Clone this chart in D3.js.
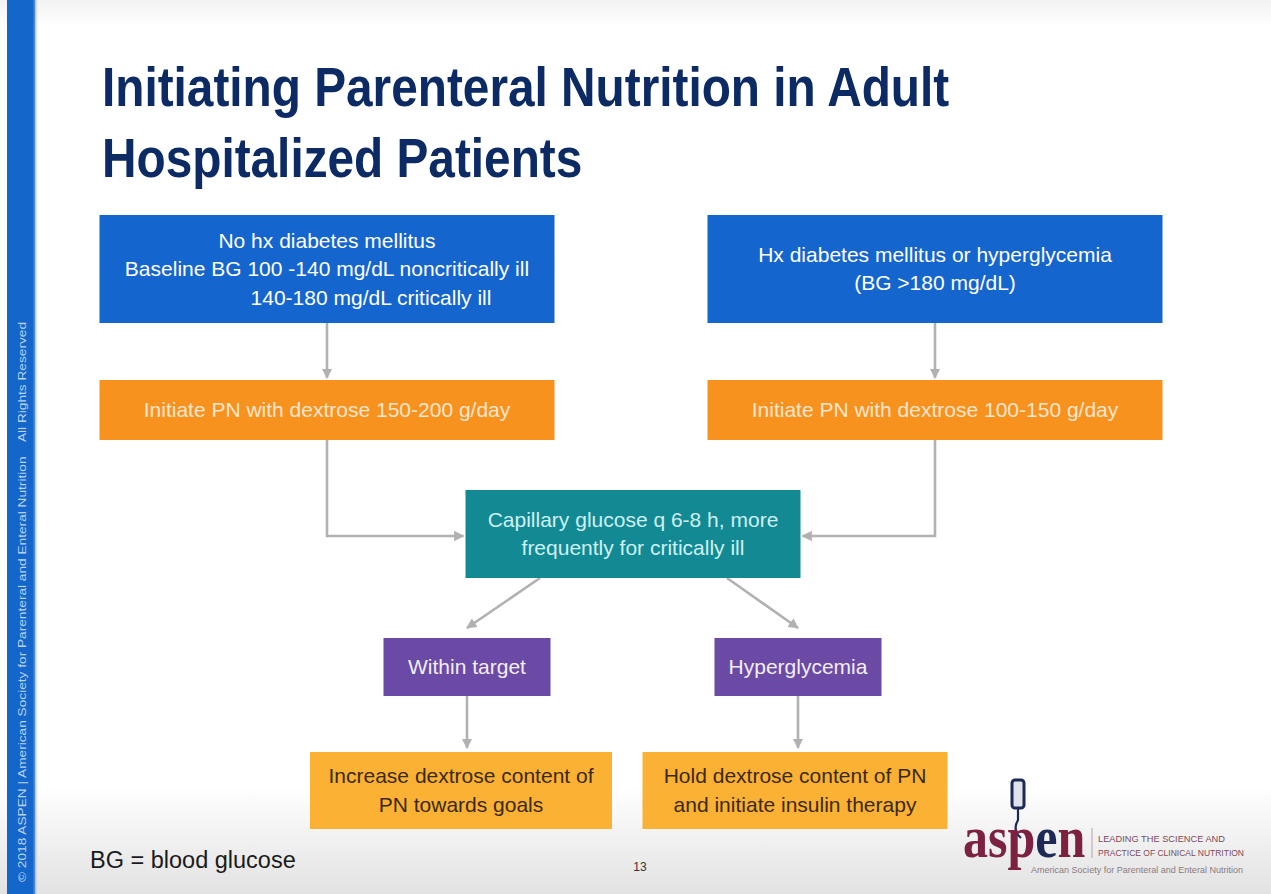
<!DOCTYPE html>
<html>
<head>
<meta charset="utf-8">
<script src="https://cdn.jsdelivr.net/npm/d3@7"></script>
<style>
  html, body { margin: 0; padding: 0; background: #fff; }
  svg { display: block; font-family: "Liberation Sans", Arial, sans-serif; }
</style>
</head>
<body>
<div class="slide"></div>
<script>
// slide text
var titleLines = ["Initiating Parenteral Nutrition in Adult", "Hospitalized Patients"];
var entryLabels = [
  ["No hx diabetes mellitus", "Baseline BG 100 -140 mg/dL noncritically ill", "140-180 mg/dL critically ill"],
  ["Hx diabetes mellitus or hyperglycemia", "(BG >180 mg/dL)"]
];
var initLabels = [["Initiate PN with dextrose 150-200 g/day"], ["Initiate PN with dextrose 100-150 g/day"]];
var monitorLabel = [["Capillary glucose q 6-8 h, more", "frequently for critically ill"]];
var outcomeLabels = [["Within target"], ["Hyperglycemia"]];
var actionLabels = [
  ["Increase dextrose content of", "PN towards goals"],
  ["Hold dextrose content of PN", "and initiate insulin therapy"]
];
var footnote = "BG = blood glucose";
var pageNumber = "13";
var sideNote = "\u00a9 2018 ASPEN | American Society for Parenteral and Enteral Nutrition    All Rights Reserved";
var logoWord = ["asp", "e", "n"];
var logoTag = ["LEADING THE SCIENCE AND", "PRACTICE OF CLINICAL NUTRITION"];
var logoSub = "American Society for Parenteral and Enteral Nutrition";

var W = 1271, H = 894;

var svg = d3.select("div.slide").append("svg")
  .attr("width", W).attr("height", H)
  .attr("viewBox", `0 0 ${W} ${H}`);

var defs = svg.append("defs");
var bg = defs.append("linearGradient").attr("id", "bg").attr("x1", 0).attr("y1", 0).attr("x2", 0).attr("y2", 1);
bg.append("stop").attr("offset", "0%").attr("stop-color", "#f2f2f2");
bg.append("stop").attr("offset", "3%").attr("stop-color", "#ffffff");
bg.append("stop").attr("offset", "88%").attr("stop-color", "#ffffff");
bg.append("stop").attr("offset", "100%").attr("stop-color", "#e2e2e2");

var edge = defs.append("linearGradient").attr("id", "edge");
edge.append("stop").attr("offset", "0%").attr("stop-color", "#2a6fc0");
edge.append("stop").attr("offset", "100%").attr("stop-color", "#ffffff").attr("stop-opacity", 0);

defs.append("marker")
  .attr("id", "head")
  .attr("viewBox", "0 0 10 10")
  .attr("refX", 9).attr("refY", 5)
  .attr("markerWidth", 4).attr("markerHeight", 4)
  .attr("markerUnits", "strokeWidth")
  .attr("orient", "auto")
  .append("path").attr("d", "M0,0L10,5L0,10z").attr("fill", "#b1b1b1");

svg.append("rect").attr("width", W).attr("height", H).attr("fill", "url(#bg)");

// left band
svg.append("rect").attr("x", 7).attr("y", 0).attr("width", 28).attr("height", H).attr("fill", "#1466cb");
svg.append("rect").attr("x", 33).attr("y", 0).attr("width", 6).attr("height", H).attr("fill", "url(#edge)");
svg.append("text")
  .attr("transform", "translate(26,882) rotate(-90)")
  .attr("font-size", 11.5)
  .attr("textLength", 560)
  .attr("lengthAdjust", "spacingAndGlyphs")
  .attr("fill", "#b9d2f0")
  .attr("xml:space", "preserve")
  .text(sideNote);

// title (condensed look: squeeze horizontally)
svg.append("g")
  .attr("transform", "translate(102,0) scale(0.853,1)")
  .selectAll("text")
  .data(titleLines)
  .join("text")
    .attr("x", 0)
    .attr("y", (d, i) => 106 + i * 71)
    .attr("font-size", 56)
    .attr("font-weight", "bold")
    .attr("fill", "#0c2a63")
    .text(d => d);

// layout: columns and rows of the flow
var col = { left: 327, right: 935, mid: 633, outL: 467, outR: 798, actL: 461, actR: 795 };
var row = { entry: [215, 323], init: [380, 440], monitor: [490, 578], outcome: [638, 696], action: [752, 829] };

var boxes = [
  { lines: entryLabels[0], cx: col.left, w: 455, r: row.entry, fill: "#1565cf", color: "#ffffff", shift: [0, 0, 44] },
  { lines: entryLabels[1], cx: col.right, w: 455, r: row.entry, fill: "#1565cf", color: "#ffffff" },
  { lines: initLabels[0], cx: col.left, w: 455, r: row.init, fill: "#f7921e", color: "#fde6cf" },
  { lines: initLabels[1], cx: col.right, w: 455, r: row.init, fill: "#f7921e", color: "#fde6cf" },
  { lines: monitorLabel[0], cx: col.mid, w: 335, r: row.monitor, fill: "#138994", color: "#cdf1f3" },
  { lines: outcomeLabels[0], cx: col.outL, w: 167, r: row.outcome, fill: "#6a4aa5", color: "#f3eefa" },
  { lines: outcomeLabels[1], cx: col.outR, w: 167, r: row.outcome, fill: "#6a4aa5", color: "#f3eefa" },
  { lines: actionLabels[0], cx: col.actL, w: 302, r: row.action, fill: "#fbb134", color: "#3b2a12" },
  { lines: actionLabels[1], cx: col.actR, w: 305, r: row.action, fill: "#fbb134", color: "#3b2a12" }
];

// connectors
var links = [
  [[col.left, row.entry[1]], [col.left, row.init[0] - 2]],
  [[col.right, row.entry[1]], [col.right, row.init[0] - 2]],
  [[col.left, row.init[1]], [col.left, 536], [col.mid - 335 / 2 - 2, 536]],
  [[col.right, row.init[1]], [col.right, 536], [col.mid + 335 / 2 + 2, 536]],
  [[540, row.monitor[1]], [col.outL, row.outcome[0] - 10]],
  [[727, row.monitor[1]], [col.outR, row.outcome[0] - 10]],
  [[col.outL, row.outcome[1]], [col.outL, row.action[0] - 4]],
  [[col.outR, row.outcome[1]], [col.outR, row.action[0] - 4]]
];

var line = d3.line();
svg.append("g").selectAll("path")
  .data(links)
  .join("path")
    .attr("d", line)
    .attr("fill", "none")
    .attr("stroke", "#b1b1b1")
    .attr("stroke-width", 2.6)
    .attr("marker-end", "url(#head)");

var nodes = svg.append("g").selectAll("g")
  .data(boxes)
  .join("g");

nodes.append("rect")
  .attr("x", d => d.cx - d.w / 2)
  .attr("y", d => d.r[0])
  .attr("width", d => d.w)
  .attr("height", d => d.r[1] - d.r[0])
  .attr("fill", d => d.fill);

nodes.each(function(d) {
  var g = d3.select(this);
  var n = d.lines.length;
  var lh = 28.5;
  var mid = (d.r[0] + d.r[1]) / 2;
  g.selectAll("text")
    .data(d.lines)
    .join("text")
      .attr("x", (t, i) => d.cx + (d.shift ? d.shift[i] : 0))
      .attr("y", (t, i) => mid + (i - (n - 1) / 2) * lh + 7)
      .attr("text-anchor", "middle")
      .attr("font-size", 21)
      .attr("fill", d.color)
      .text(t => t);
});

// footer
svg.append("text").attr("x", 90).attr("y", 868).attr("font-size", 23.5).attr("fill", "#1a1a1a").text(footnote);
svg.append("text").attr("x", 640).attr("y", 871).attr("font-size", 12).attr("text-anchor", "middle").attr("fill", "#333").text(pageNumber);

// logo
var logo = svg.append("g");
logo.append("rect").attr("x", 1012).attr("y", 780).attr("width", 12).attr("height", 28).attr("rx", 3)
  .attr("fill", "#dfe3ee").attr("stroke", "#1d2a55").attr("stroke-width", 3);
logo.append("path").attr("d", "M1018,808 L1018,820 Q1012,830 1021,838")
  .attr("fill", "none").attr("stroke", "#1d2a55").attr("stroke-width", 2.2);
var word = logo.append("text")
  .attr("transform", "translate(963,857) scale(1,1.2)")
  .style("font-family", "'Liberation Serif', 'DejaVu Serif', serif")
  .attr("font-size", 50)
  .attr("font-weight", "bold");
word.selectAll("tspan")
  .data(logoWord)
  .join("tspan")
    .attr("fill", (d, i) => i === 1 ? "#1d2a55" : "#7c2141")
    .text(d => d);
logo.append("line").attr("x1", 1092).attr("x2", 1092).attr("y1", 828).attr("y2", 858)
  .attr("stroke", "#b8a0a8").attr("stroke-width", 1);
logo.selectAll("text.tag")
  .data(logoTag)
  .join("text").attr("class", "tag")
    .attr("x", 1098).attr("y", (d, i) => 842 + i * 14)
    .attr("font-size", 8.5)
    .attr("textLength", (d, i) => i ? 146 : 127)
    .attr("lengthAdjust", "spacingAndGlyphs")
    .attr("fill", "#7c4a5a")
    .text(d => d);
logo.append("text").attr("x", 1031).attr("y", 873).attr("font-size", 8.5)
  .attr("textLength", 212).attr("lengthAdjust", "spacingAndGlyphs")
  .attr("fill", "#8a7a80")
  .text(logoSub);
</script>
</body>
</html>
